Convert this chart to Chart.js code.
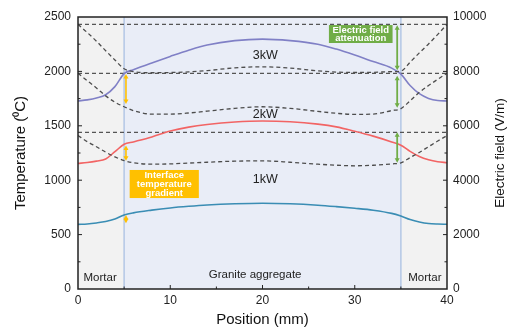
<!DOCTYPE html>
<html>
<head>
<meta charset="utf-8">
<script src="https://cdn.jsdelivr.net/npm/chart.js@4.4.1/dist/chart.umd.min.js"></script>
<style>
  html, body { margin: 0; padding: 0; background: #fff; }
</style>
</head>
<body>
<canvas id="chart" width="508" height="328"></canvas>
<script>
// Position along the specimen (mm)
const positions = [0, 1, 2, 3, 4, 5, 6, 8, 10, 12, 14, 17, 20, 23, 26, 28, 30, 32, 34, 35, 36, 37, 38, 39, 40];

// Temperature (°C), left axis
const temp3kW = [1728, 1738, 1755, 1785, 1860, 1980, 2015, 2078, 2138, 2195, 2243, 2283, 2297, 2283, 2250, 2205, 2150, 2090, 2030, 1975, 1870, 1795, 1752, 1732, 1728];
const temp2kW = [1155, 1162, 1175, 1195, 1262, 1330, 1352, 1398, 1452, 1488, 1512, 1535, 1544, 1537, 1515, 1490, 1450, 1405, 1352, 1322, 1265, 1218, 1188, 1170, 1161];
const temp1kW = [594, 598, 607, 620, 643, 680, 700, 725, 745, 760, 772, 783, 788, 783, 770, 757, 742, 724, 695, 670, 638, 616, 602, 597, 595];

// Electric field (V/m), right axis
const field3kW = [9730, 9430, 9110, 8760, 8420, 8100, 7990, 7950, 7960, 7980, 8030, 8130, 8170, 8120, 8020, 7975, 7960, 7965, 7990, 8010, 8340, 8680, 9010, 9360, 9730];
const field2kW = [7930, 7660, 7390, 7100, 6870, 6700, 6560, 6430, 6430, 6470, 6540, 6640, 6700, 6640, 6530, 6460, 6420, 6430, 6560, 6630, 6920, 7230, 7480, 7710, 7930];
const field1kW = [5640, 5420, 5230, 5030, 4860, 4720, 4640, 4590, 4600, 4630, 4660, 4700, 4710, 4660, 4590, 4550, 4530, 4550, 4600, 4640, 4830, 5020, 5230, 5440, 5640];

// Reference levels (V/m) and annotation arrows
const fieldLevels = [9730, 7930, 5760];
const gradientArrows = [[1975, 1700], [1318, 1178], [680, 604]];      // °C at x = 5.2
const attenuationArrows = [[9700, 8040], [7840, 6660], [5760, 4640]]; // V/m at x = 34.6

// Regions
const interfaces = [5, 35];
const regionLabels = [['Mortar', 2.4, 106], ['Granite aggregate', 19.2, 130], ['Mortar', 37.6, 106]];
const powerLabels = [['3kW', 20.3, 2150], ['2kW', 20.3, 1600], ['1kW', 20.3, 1002]];

const xTicks = [0, 10, 20, 30, 40];
const tempTicks = [0, 500, 1000, 1500, 2000, 2500];
const fieldTicks = [0, 2000, 4000, 6000, 8000, 10000];

const FONT = "'Liberation Sans', Arial, sans-serif";

function pts(vals) {
    return positions.map((p, i) => ({ x: p, y: vals[i] }));
}

function arrow(ctx, x, y1, y2, color, width) {
    const h = 3.5;
    ctx.save();
    ctx.strokeStyle = color;
    ctx.fillStyle = color;
    ctx.lineWidth = width;
    ctx.beginPath();
    ctx.moveTo(x, y1 + h);
    ctx.lineTo(x, y2 - h);
    ctx.stroke();
    ctx.beginPath();
    ctx.moveTo(x, y1); ctx.lineTo(x - 2.5, y1 + h + 1); ctx.lineTo(x + 2.5, y1 + h + 1); ctx.closePath();
    ctx.fill();
    ctx.beginPath();
    ctx.moveTo(x, y2); ctx.lineTo(x - 2.5, y2 - h - 1); ctx.lineTo(x + 2.5, y2 - h - 1); ctx.closePath();
    ctx.fill();
    ctx.restore();
}

const decor = {
    id: 'decor',
    beforeDatasetsDraw(chart) {
        const { ctx, chartArea: a, scales: { x, y2 } } = chart;
        const x5 = x.getPixelForValue(interfaces[0]);
        const x35 = x.getPixelForValue(interfaces[1]);
        ctx.save();
        ctx.fillStyle = '#f2f2f2';
        ctx.fillRect(a.left, a.top, x5 - a.left, a.bottom - a.top);
        ctx.fillRect(x35, a.top, a.right - x35, a.bottom - a.top);
        ctx.fillStyle = '#e9edf7';
        ctx.fillRect(x5, a.top, x35 - x5, a.bottom - a.top);
        ctx.strokeStyle = '#b7c9e6';
        ctx.lineWidth = 1.6;
        [x5, x35].forEach(px => {
            ctx.beginPath();
            ctx.moveTo(px, a.top);
            ctx.lineTo(px, a.bottom);
            ctx.stroke();
        });
        // reference field levels
        ctx.strokeStyle = '#555';
        ctx.lineWidth = 1.2;
        ctx.setLineDash([4, 3]);
        fieldLevels.forEach(v => {
            const py = y2.getPixelForValue(v);
            ctx.beginPath();
            ctx.moveTo(a.left, py);
            ctx.lineTo(a.right, py);
            ctx.stroke();
        });
        ctx.restore();
    },
    afterDatasetsDraw(chart) {
        const { ctx, chartArea: a, scales: { x, y, y2 } } = chart;
        ctx.save();

        // arrows
        gradientArrows.forEach(([t1, t2]) => {
            arrow(ctx, x.getPixelForValue(5.2), y.getPixelForValue(t1), y.getPixelForValue(t2), '#ffc000', 1.6);
        });
        attenuationArrows.forEach(([e1, e2]) => {
            arrow(ctx, x.getPixelForValue(34.6), y2.getPixelForValue(e1), y2.getPixelForValue(e2), '#70ad47', 1.8);
        });

        // annotation boxes
        const gx1 = x.getPixelForValue(27.2), gx2 = x.getPixelForValue(34.1);
        const gy1 = y.getPixelForValue(2426), gy2 = y.getPixelForValue(2261);
        ctx.fillStyle = '#70ad47';
        ctx.fillRect(gx1, gy1, gx2 - gx1, gy2 - gy1);
        const ox1 = x.getPixelForValue(5.6), ox2 = x.getPixelForValue(13.1);
        const oy1 = y.getPixelForValue(1094), oy2 = y.getPixelForValue(836);
        ctx.fillStyle = '#ffc000';
        ctx.fillRect(ox1, oy1, ox2 - ox1, oy2 - oy1);

        ctx.fillStyle = '#fff';
        ctx.font = 'bold 9.5px ' + FONT;
        ctx.textAlign = 'center';
        ctx.textBaseline = 'middle';
        const gc = (gx1 + gx2) / 2;
        ctx.fillText('Electric field', gc, gy1 + 5);
        ctx.fillText('attenuation', gc, gy1 + 13.5);
        const oc = (ox1 + ox2) / 2;
        ctx.fillText('Interface', oc, oy1 + 5);
        ctx.fillText('temperature', oc, oy1 + 14);
        ctx.fillText('gradient', oc, oy1 + 23);

        // text labels
        ctx.fillStyle = '#222';
        ctx.font = '12.5px ' + FONT;
        powerLabels.forEach(([t, px, py]) => ctx.fillText(t, x.getPixelForValue(px), y.getPixelForValue(py)));
        ctx.font = '11.5px ' + FONT;
        regionLabels.forEach(([t, px, py]) => ctx.fillText(t, x.getPixelForValue(px), y.getPixelForValue(py)));

        // frame and inward ticks
        ctx.strokeStyle = '#222';
        ctx.lineWidth = 1.5;
        ctx.strokeRect(a.left, a.top, a.right - a.left, a.bottom - a.top);
        ctx.lineWidth = 1;
        ctx.beginPath();
        for (let v = 5; v < 40; v += 5) {
            const px = x.getPixelForValue(v);
            ctx.moveTo(px, a.bottom);
            ctx.lineTo(px, a.bottom - (v % 10 === 0 ? 4 : 2.5));
        }
        for (let v = 250; v < 2500; v += 250) {
            const py = y.getPixelForValue(v);
            ctx.moveTo(a.left, py);
            ctx.lineTo(a.left + (v % 500 === 0 ? 4 : 2.5), py);
        }
        for (let v = 1000; v < 10000; v += 1000) {
            const py = y2.getPixelForValue(v);
            ctx.moveTo(a.right, py);
            ctx.lineTo(a.right - (v % 2000 === 0 ? 4 : 2.5), py);
        }
        ctx.stroke();

        // axis titles
        ctx.fillStyle = '#111';
        ctx.font = '15px ' + FONT;
        ctx.fillText('Position (mm)', (a.left + a.right) / 2, 320);
        const midY = (a.top + a.bottom) / 2;
        ctx.save();
        ctx.translate(21, midY);
        ctx.rotate(-Math.PI / 2);
        ctx.fillText('Temperature (\u2070C)', 0, 0);
        ctx.restore();
        ctx.save();
        ctx.translate(500, midY);
        ctx.rotate(-Math.PI / 2);
        ctx.font = '13.5px ' + FONT;
        ctx.fillText('Electric field (V/m)', 0, 0);
        ctx.restore();

        ctx.restore();
    }
};

const tempLine = (label, vals, color) => ({
    label, data: pts(vals), yAxisID: 'y',
    borderColor: color, borderWidth: 1.6,
    pointRadius: 0, cubicInterpolationMode: 'monotone', fill: false
});
const fieldLine = (label, vals) => ({
    label, data: pts(vals), yAxisID: 'y2',
    borderColor: '#4d4d4d', borderWidth: 1.3, borderDash: [4, 3],
    pointRadius: 0, cubicInterpolationMode: 'monotone', fill: false
});

const tickFont = { family: FONT, size: 12 };
const plain = v => String(v);

new Chart(document.getElementById('chart'), {
    type: 'line',
    data: {
        datasets: [
            fieldLine('E 3kW', field3kW),
            fieldLine('E 2kW', field2kW),
            fieldLine('E 1kW', field1kW),
            tempLine('T 3kW', temp3kW, '#8080c6'),
            tempLine('T 2kW', temp2kW, '#f26464'),
            tempLine('T 1kW', temp1kW, '#3a8db4')
        ]
    },
    options: {
        responsive: false,
        devicePixelRatio: 1,
        animation: false,
        layout: { padding: { top: 17, left: 0, right: 0, bottom: 0 } },
        plugins: { legend: { display: false }, tooltip: { enabled: false } },
        scales: {
            x: {
                type: 'linear', min: 0, max: 40,
                afterBuildTicks: s => { s.ticks = xTicks.map(v => ({ value: v })); },
                ticks: { color: '#222', font: tickFont, padding: 4, maxRotation: 0, callback: plain },
                grid: { display: false, drawTicks: false },
                border: { display: false },
                afterFit: s => { s.height = 39; }
            },
            y: {
                position: 'left', min: 0, max: 2500,
                afterBuildTicks: s => { s.ticks = tempTicks.map(v => ({ value: v })); },
                ticks: { color: '#222', font: tickFont, padding: 7, callback: plain },
                grid: { display: false, drawTicks: false },
                border: { display: false },
                afterFit: s => { s.width = 78; }
            },
            y2: {
                position: 'right', min: 0, max: 10000,
                afterBuildTicks: s => { s.ticks = fieldTicks.map(v => ({ value: v })); },
                ticks: { color: '#222', font: tickFont, padding: 6, callback: plain },
                grid: { display: false, drawTicks: false },
                border: { display: false },
                afterFit: s => { s.width = 61; }
            }
        }
    },
    plugins: [decor]
});
</script>
</body>
</html>
